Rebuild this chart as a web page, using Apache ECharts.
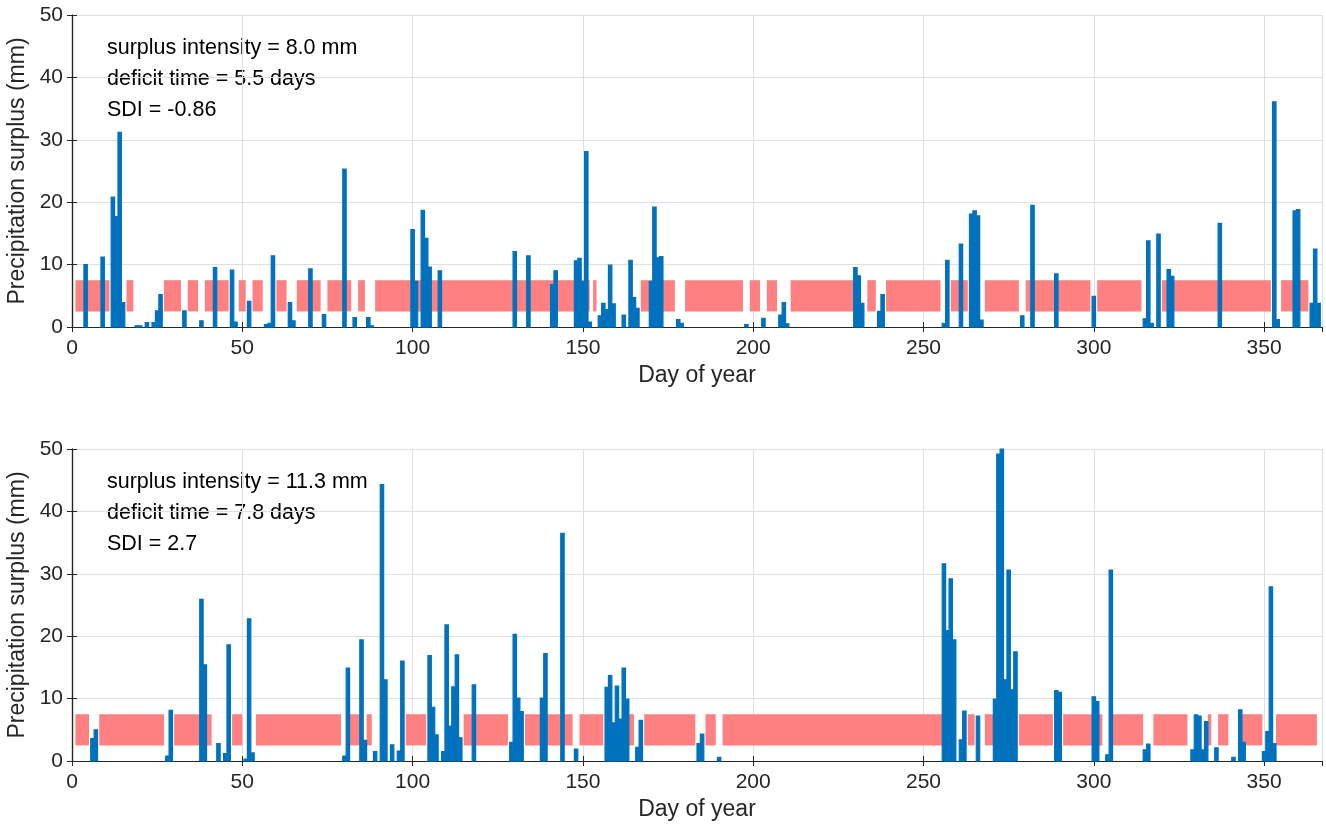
<!DOCTYPE html>
<html>
<head>
<meta charset="utf-8">
<script src="https://cdn.jsdelivr.net/npm/echarts@6/dist/echarts.min.js"></script>
<style>
  html, body { margin: 0; padding: 0; background: #fff; }
  #chart { width: 1326px; height: 827px; }
</style>
</head>
<body>
<div id="chart"></div>
<script>
// ---- top panel: daily surplus (day, mm) ----
var days1 = [4, 9, 12, 13, 14, 15, 19, 20, 22, 24, 25, 26, 33, 38, 42, 47, 48, 52, 57, 58, 59, 64, 65, 70, 74,
  80, 83, 87, 88, 100, 101, 103, 104, 105, 108, 130, 134, 141, 142, 148, 149, 150, 151, 152, 155, 156, 157, 158,
  159, 162, 164, 165, 166, 170, 171, 172, 173, 178, 179, 198, 203, 208, 209, 210, 230, 231, 232, 237, 238, 256,
  257, 261, 264, 265, 266, 267, 279, 282, 289, 300, 315, 316, 317, 319, 322, 323, 337, 353, 354, 359, 360, 364,
  365, 366];
var surplus1 = [10.0, 11.2, 20.8, 17.7, 31.2, 3.9, 0.2, 0.2, 0.7, 0.7, 2.6, 5.2, 2.6, 1.0, 9.5, 9.1, 0.8, 4.1, 0.4,
  0.6, 11.4, 3.9, 1.0, 9.3, 2.0, 25.3, 1.5, 1.5, 0.2, 15.6, 7.3, 18.7, 14.2, 9.6, 9.0, 12.1, 11.4, 6.8, 9.0, 10.6,
  11.0, 7.3, 28.1, 0.8, 1.8, 3.8, 2.8, 9.9, 3.7, 1.9, 10.7, 4.7, 3.0, 7.3, 19.2, 11.1, 11.3, 1.2, 0.6, 0.4, 1.4,
  1.9, 3.9, 0.5, 9.5, 8.2, 3.8, 2.5, 5.2, 0.6, 10.7, 13.3, 18.1, 18.6, 17.8, 1.1, 1.8, 19.5, 8.5, 4.9, 1.3, 13.8,
  0.6, 14.9, 9.2, 8.1, 16.6, 36.1, 1.2, 18.6, 18.8, 3.8, 12.5, 3.8];
// deficit periods (start day, end day)
var deficitStart1 = [1, 16, 27, 34, 39, 49, 53, 60, 66, 75, 84, 89, 153, 167, 180, 199, 204, 211, 233.5, 239, 258,
  268, 280, 301, 320, 355];
var deficitEnd1 = [11, 18, 32, 37, 46, 51, 56, 63, 73, 82, 86, 152, 154, 177, 197, 202, 207, 230, 236, 255, 263,
  278, 299, 314, 352, 363];
var notes1 = ['surplus intensity = 8.0 mm', 'deficit time = 5.5 days', 'SDI = -0.86'];

// ---- bottom panel ----
var days2 = [6, 7, 28, 29, 38, 39, 43, 45, 46, 51, 52, 53, 80, 81, 85, 86, 89, 91, 92, 94, 96, 97, 105, 106, 107,
  109, 110, 111, 112, 113, 114, 118, 129, 130, 131, 132, 138, 139, 144, 148, 157, 158, 159, 160, 161, 162, 163,
  166, 167, 184, 185, 190, 256, 257, 258, 259, 261, 262, 266, 271, 272, 273, 274, 275, 276, 277, 289, 290, 300,
  301, 304, 305, 315, 316, 329, 330, 331, 332, 333, 336, 341, 343, 344, 350, 351, 352, 353];
var surplus2 = [3.6, 5.0, 0.8, 8.1, 25.9, 15.4, 2.8, 1.2, 18.6, 0.3, 22.8, 1.3, 0.8, 14.9, 19.4, 3.3, 1.5, 44.3,
  13.0, 2.6, 1.6, 16.0, 16.9, 8.6, 4.2, 1.5, 21.8, 5.6, 11.9, 17.0, 3.7, 12.2, 3.0, 20.3, 10.1, 7.9, 10.1, 17.2,
  36.5, 1.9, 11.8, 13.7, 6.1, 12.0, 6.7, 14.9, 9.9, 2.2, 6.5, 2.8, 4.3, 0.6, 31.6, 20.9, 29.2, 19.4, 3.4, 8.0, 7.2,
  9.9, 49.2, 50.0, 13.0, 30.6, 11.4, 17.5, 11.3, 11.0, 10.3, 9.5, 1.0, 30.6, 1.8, 2.7, 1.8, 7.4, 7.2, 1.8, 6.3,
  2.1, 0.6, 8.2, 3.0, 1.5, 4.7, 27.9, 2.8];
var deficitStart2 = [1, 8, 30, 47, 54, 81.5, 86.5, 98, 115, 133, 149, 163.5, 168, 186, 191, 263, 268, 278, 291,
  305.5, 317.5, 333.5, 336.5, 343.5, 353.5];
var deficitEnd2 = [5, 27, 41, 50, 79, 85, 88, 104, 128, 147, 156, 165, 183, 189, 255.5, 265, 271, 288, 302.5,
  314.5, 327.5, 334.5, 339.5, 349.5, 365.5];
var notes2 = ['surplus intensity = 11.3 mm', 'deficit time = 7.8 days', 'SDI = 2.7'];

var BAND_LOW = 2.5, BAND_HIGH = 7.5;
var FONT = 'Liberation Sans, Helvetica, Arial, sans-serif';
var INK = '#262626';

function zip(a, b) {
    var out = [];
    for (var i = 0; i < a.length; i++) out.push([a[i], b[i]]);
    return out;
}

function renderBar(params, api) {
    var d = api.value(0), v = api.value(1);
    var p0 = api.coord([d - 0.5, v]);
    var p1 = api.coord([d + 0.5, 0]);
    return {
        type: 'rect',
        shape: { x: p0[0], y: p0[1], width: p1[0] - p0[0], height: p1[1] - p0[1] },
        style: { fill: '#0072BD', stroke: '#0072BD', lineWidth: 1.2 }
    };
}

function renderBand(params, api) {
    var p0 = api.coord([api.value(0), BAND_HIGH]);
    var p1 = api.coord([api.value(1), BAND_LOW]);
    return {
        type: 'rect',
        shape: { x: p0[0], y: p0[1], width: p1[0] - p0[0], height: p1[1] - p0[1] },
        style: { fill: '#FF8080' }
    };
}

var grids = [
    { left: 72, top: 15, width: 1250, height: 312, outerBoundsMode: 'none' },
    { left: 72, top: 449, width: 1250, height: 312, outerBoundsMode: 'none' }
];

var xAxes = [], yAxes = [], series = [], graphic = [];

function addPanel(g, days, vals, dStart, dEnd, notes) {
    var tick = { show: true, inside: true, length: 5, lineStyle: { color: INK, width: 1 } };
    var line = { show: true, lineStyle: { color: INK, width: 1.2 } };
    xAxes.push({
        type: 'value', gridIndex: g, min: 0, max: 367, interval: 50, position: 'bottom',
        axisLine: line, axisTick: tick,
        axisLabel: {
            color: INK, fontSize: 21, fontFamily: FONT, margin: 11, showMaxLabel: false,
            formatter: function (v) { return v % 50 === 0 ? String(v) : ''; }
        },
        splitLine: { show: true, lineStyle: { color: '#dfdfdf', width: 1 } },
        name: 'Day of year', nameLocation: 'middle', nameGap: 37,
        nameTextStyle: { color: INK, fontSize: 23, fontFamily: FONT }
    });
    xAxes.push({
        type: 'value', gridIndex: g, min: 0, max: 367, interval: 50, position: 'top',
        axisLine: line, axisTick: tick, axisLabel: { show: false }, splitLine: { show: false }
    });
    yAxes.push({
        type: 'value', gridIndex: g, min: 0, max: 50, interval: 10, position: 'left',
        axisLine: line, axisTick: tick,
        axisLabel: { color: INK, fontSize: 21, fontFamily: FONT, margin: 9 },
        splitLine: { show: true, lineStyle: { color: '#dfdfdf', width: 1 } },
        name: 'Precipitation surplus (mm)', nameLocation: 'middle', nameGap: 35,
        nameTextStyle: { color: INK, fontSize: 23, fontFamily: FONT }
    });
    yAxes.push({
        type: 'value', gridIndex: g, min: 0, max: 50, interval: 10, position: 'right',
        axisLine: line, axisTick: tick, axisLabel: { show: false }, splitLine: { show: false }
    });
    series.push({
        type: 'custom', xAxisIndex: 2 * g, yAxisIndex: 2 * g, renderItem: renderBand,
        data: zip(dStart, dEnd), silent: true, z: 1
    });
    series.push({
        type: 'custom', xAxisIndex: 2 * g, yAxisIndex: 2 * g, renderItem: renderBar,
        data: zip(days, vals), silent: true, z: 2
    });
    for (var i = 0; i < notes.length; i++) {
        graphic.push({
            type: 'text', x: 107, y: grids[g].top + 33 + i * 31,
            style: { text: notes[i], fill: '#000', fontSize: 21.5, fontFamily: FONT, verticalAlign: 'middle' }
        });
    }
}

addPanel(0, days1, surplus1, deficitStart1, deficitEnd1, notes1);
addPanel(1, days2, surplus2, deficitStart2, deficitEnd2, notes2);

var chart = echarts.init(document.getElementById('chart'), null, { renderer: 'canvas' });
chart.setOption({
    backgroundColor: '#fff',
    animation: false,
    grid: grids,
    xAxis: xAxes,
    yAxis: yAxes,
    series: series,
    graphic: graphic
});
</script>
</body>
</html>
